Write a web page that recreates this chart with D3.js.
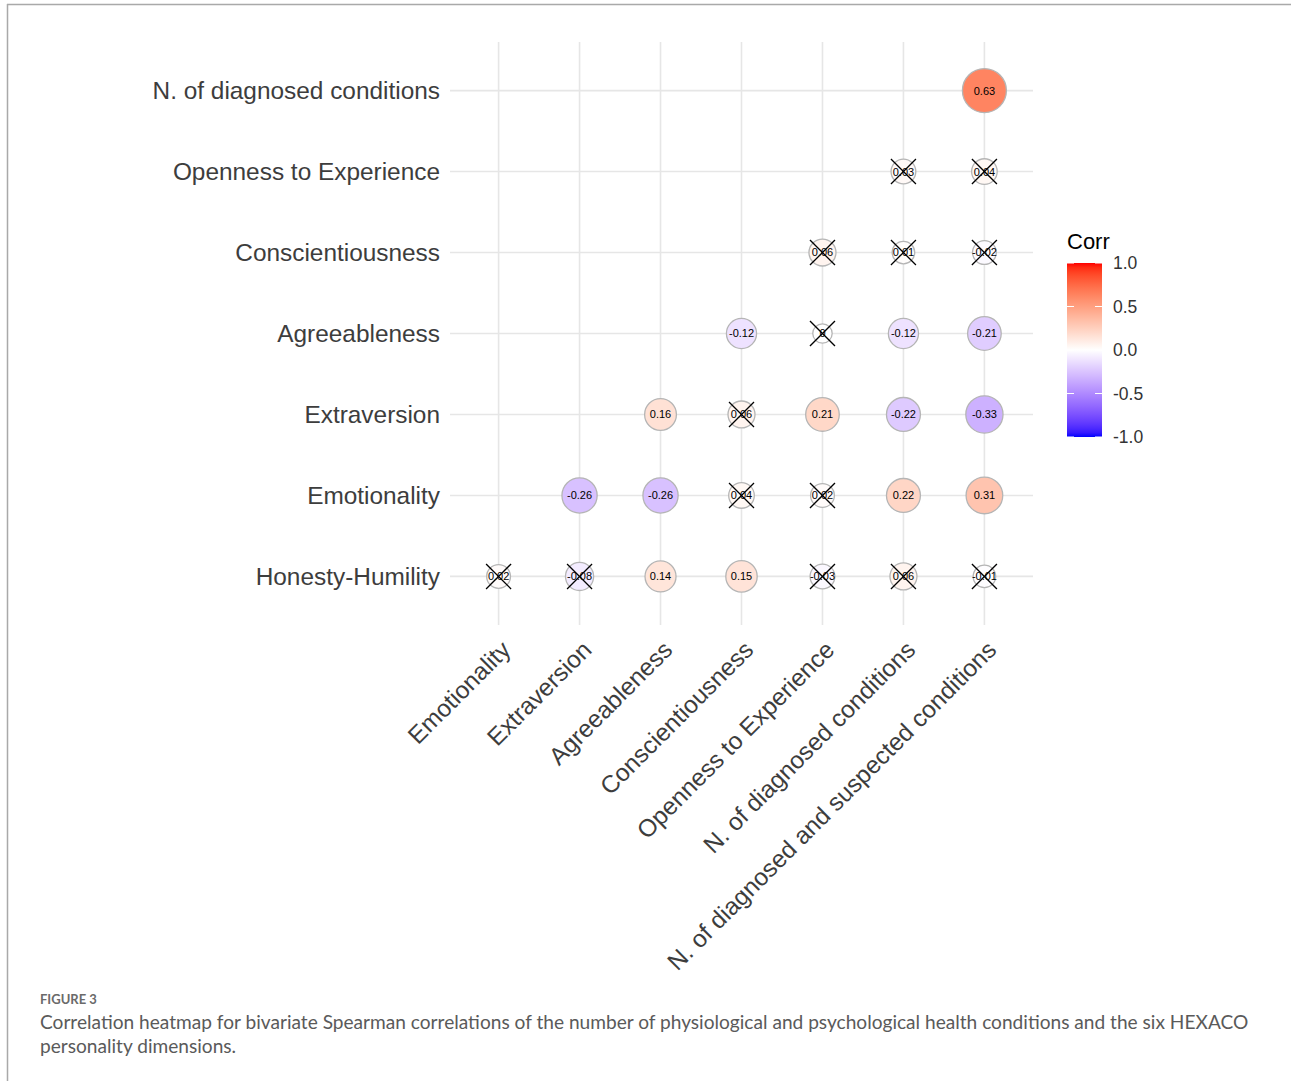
<!DOCTYPE html>
<html>
<head>
<meta charset="utf-8">
<script src="https://cdn.jsdelivr.net/npm/d3@7"></script>
<style>
  html, body { margin: 0; padding: 0; background: #fff; }
  svg { display: block; }
</style>
</head>
<body>
<svg id="chart" width="1291" height="1081"></svg>
<script>
// Column (x) and row (y, top to bottom) variables
const columns = [
  "Emotionality",
  "Extraversion",
  "Agreeableness",
  "Conscientiousness",
  "Openness to Experience",
  "N. of diagnosed conditions",
  "N. of diagnosed and suspected conditions"
];
const rows = [
  "N. of diagnosed conditions",
  "Openness to Experience",
  "Conscientiousness",
  "Agreeableness",
  "Extraversion",
  "Emotionality",
  "Honesty-Humility"
];

// Spearman correlations per row (null = not shown), in column order
const corrDiagnosed       = [null, null, null, null, null, null, 0.63];
const corrOpenness        = [null, null, null, null, null, 0.03, 0.04];
const corrConscientious   = [null, null, null, null, 0.06, 0.01, -0.02];
const corrAgreeableness   = [null, null, null, -0.12, 0, -0.12, -0.21];
const corrExtraversion    = [null, null, 0.16, 0.06, 0.21, -0.22, -0.33];
const corrEmotionality    = [null, -0.26, -0.26, 0.04, 0.02, 0.22, 0.31];
const corrHonesty         = [0.02, -0.08, 0.14, 0.15, -0.03, 0.06, -0.01];

// Non-significant cells (crossed out)
const nsDiagnosed     = [0, 0, 0, 0, 0, 0, 0];
const nsOpenness      = [0, 0, 0, 0, 0, 1, 1];
const nsConscientious = [0, 0, 0, 0, 1, 1, 1];
const nsAgreeableness = [0, 0, 0, 0, 1, 0, 0];
const nsExtraversion  = [0, 0, 0, 1, 0, 0, 0];
const nsEmotionality  = [0, 0, 0, 1, 1, 0, 0];
const nsHonesty       = [1, 1, 0, 0, 1, 1, 1];

const legendTicks = [-1.0, -0.5, 0.0, 0.5, 1.0];

const corrRows = [corrDiagnosed, corrOpenness, corrConscientious, corrAgreeableness,
                  corrExtraversion, corrEmotionality, corrHonesty];
const nsRows = [nsDiagnosed, nsOpenness, nsConscientious, nsAgreeableness,
                nsExtraversion, nsEmotionality, nsHonesty];

const cells = [];
rows.forEach((r, i) => {
  columns.forEach((c, j) => {
    const v = corrRows[i][j];
    if (v !== null) cells.push({ row: r, col: c, value: v, ns: nsRows[i][j] === 1 });
  });
});

const svg = d3.select("#chart");
const axisFont = "'Liberation Sans', Arial, Helvetica, sans-serif";

// Frame lines
svg.append("line").attr("x1", 7).attr("x2", 1291).attr("y1", 4.5).attr("y2", 4.5)
  .attr("stroke", "#a9a9a9").attr("stroke-width", 1.5);
svg.append("line").attr("x1", 7.5).attr("x2", 7.5).attr("y1", 4).attr("y2", 1081)
  .attr("stroke", "#a9a9a9").attr("stroke-width", 1.5);

// Scales
const x = d3.scalePoint().domain(columns).range([450, 1033]).padding(0.6);
const y = d3.scalePoint().domain(rows).range([42, 625]).padding(0.6);
const color = d3.scaleLinear().domain([-1, 0, 1]).range(["blue", "white", "red"])
  .interpolate(d3.interpolateLab);
const maxAbs = d3.max(cells, d => Math.abs(d.value));
const radius = d3.scaleSqrt().domain([0, maxAbs]).range([9.7, 22]);

// Grid
const grid = svg.append("g");
grid.selectAll("line.v").data(columns).join("line").attr("class", "v")
  .attr("x1", d => x(d)).attr("x2", d => x(d)).attr("y1", 42).attr("y2", 625)
  .attr("stroke", "#e6e6e6").attr("stroke-width", 1.6);
grid.selectAll("line.h").data(rows).join("line").attr("class", "h")
  .attr("y1", d => y(d)).attr("y2", d => y(d)).attr("x1", 450).attr("x2", 1033)
  .attr("stroke", "#e6e6e6").attr("stroke-width", 1.6);

// Y axis labels
svg.append("g").selectAll("text").data(rows).join("text")
  .attr("x", 440).attr("y", d => y(d)).attr("dy", "0.36em")
  .attr("text-anchor", "end").attr("font-family", axisFont).attr("font-size", 24.4)
  .attr("fill", "#3d3d3d").text(d => d);

// X axis labels, rotated 45 degrees
svg.append("g").selectAll("text").data(columns).join("text")
  .attr("transform", d => `translate(${x(d) + 1},${639}) rotate(-45)`)
  .attr("dy", "0.72em")
  .attr("text-anchor", "end").attr("font-family", axisFont).attr("font-size", 24.4)
  .attr("fill", "#3d3d3d").text(d => d);

// Circles
const cg = svg.append("g").selectAll("g").data(cells).join("g")
  .attr("transform", d => `translate(${x(d.col)},${y(d.row)})`);
cg.append("circle").attr("r", d => radius(Math.abs(d.value)))
  .attr("fill", d => color(d.value)).attr("stroke", "#b5b5b5").attr("stroke-width", 1.3);
cg.append("text").attr("dy", "0.36em").attr("text-anchor", "middle")
  .attr("font-family", axisFont).attr("font-size", 11).attr("fill", "#000")
  .text(d => String(d.value));
const crossed = cg.filter(d => d.ns);
crossed.append("line").attr("x1", -12.5).attr("y1", -12.5).attr("x2", 12.5).attr("y2", 12.5)
  .attr("stroke", "#000").attr("stroke-width", 1.3);
crossed.append("line").attr("x1", -12.5).attr("y1", 12.5).attr("x2", 12.5).attr("y2", -12.5)
  .attr("stroke", "#000").attr("stroke-width", 1.3);

// Legend
const lg = svg.append("g");
const ly = d3.scaleLinear().domain([-1, 1]).range([437, 263]);
const defs = svg.append("defs");
const grad = defs.append("linearGradient").attr("id", "corrGrad")
  .attr("x1", 0).attr("x2", 0).attr("y1", 1).attr("y2", 0);
d3.range(0, 41).forEach(i => {
  const t = i / 40;
  grad.append("stop").attr("offset", t).attr("stop-color", color(-1 + 2 * t));
});
lg.append("text").attr("x", 1067).attr("y", 249).attr("font-family", axisFont)
  .attr("font-size", 22).attr("fill", "#000").text("Corr");
lg.append("rect").attr("x", 1067).attr("y", ly(1)).attr("width", 35)
  .attr("height", ly(-1) - ly(1)).attr("fill", "url(#corrGrad)");
lg.selectAll("line.tl").data(legendTicks).join("line").attr("class", "tl")
  .attr("x1", 1067).attr("x2", 1074).attr("y1", d => ly(d)).attr("y2", d => ly(d))
  .attr("stroke", "#fff").attr("stroke-width", 1);
lg.selectAll("line.tr").data(legendTicks).join("line").attr("class", "tr")
  .attr("x1", 1095).attr("x2", 1102).attr("y1", d => ly(d)).attr("y2", d => ly(d))
  .attr("stroke", "#fff").attr("stroke-width", 1);
lg.selectAll("text.tick").data(legendTicks).join("text").attr("class", "tick")
  .attr("x", 1113).attr("y", d => ly(d)).attr("dy", "0.36em")
  .attr("font-family", axisFont).attr("font-size", 17.5).attr("fill", "#333")
  .text(d => d3.format(".1f")(d).replace("−", "-"));

// Caption
const capFont = "Lato, 'Open Sans', sans-serif";
svg.append("text").attr("x", 40).attr("y", 1004).attr("font-family", capFont)
  .attr("font-size", 13).attr("font-weight", 700).attr("fill", "#6a6a6a")
  .text("FIGURE 3");
const capLines = [
  "Correlation heatmap for bivariate Spearman correlations of the number of physiological and psychological health conditions and the six HEXACO",
  "personality dimensions."
];
const cap = svg.append("g");
const t1 = cap.append("text").attr("x", 40).attr("y", 1029).attr("font-family", capFont)
  .attr("font-size", 18).attr("fill", "#5a5a5a").text(capLines[0]);
const w = t1.node().getComputedTextLength();
const fs = 18 * 1209 / w;
t1.attr("font-size", fs);
cap.append("text").attr("x", 40).attr("y", 1053).attr("font-family", capFont)
  .attr("font-size", fs).attr("fill", "#5a5a5a").text(capLines[1]);
</script>
</body>
</html>
